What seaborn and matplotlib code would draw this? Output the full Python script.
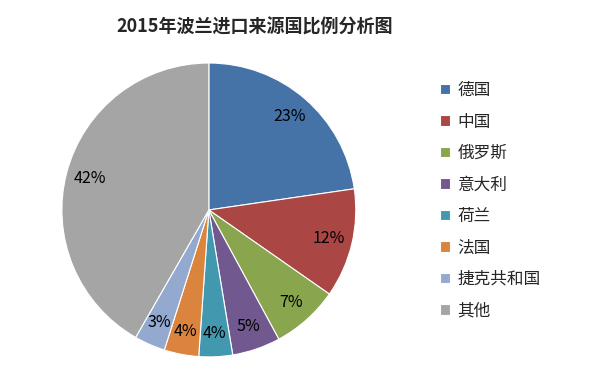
import numpy as np
import matplotlib
matplotlib.use("Agg")
import matplotlib.pyplot as plt
import seaborn as sns

# 2015 Poland import sources, share in %
countries = ["德国", "中国", "俄罗斯", "意大利", "荷兰", "法国", "捷克共和国", "其他"]
shares = [22.7, 12.0, 7.4, 5.3, 3.7, 3.8, 3.4, 41.7]
colors = ["#4572A7", "#AA4643", "#89A54E", "#71588F", "#4198AF", "#DB843D", "#93A9CF", "#A5A5A5"]

sns.set_theme(style="white")
plt.rcParams['font.family'] = ['Noto Sans CJK SC', 'DejaVu Sans']

fig = plt.figure(figsize=(6.01, 3.69), dpi=100)
ax = fig.add_axes([0.103, 0.0325, 0.489, 0.797])

wedges, texts, autotexts = ax.pie(
    shares, colors=sns.color_palette(colors), startangle=90, counterclock=False,
    autopct=lambda p: "%d%%" % round(p), pctdistance=0.84,
    wedgeprops=dict(edgecolor="white", linewidth=0.8),
    textprops=dict(fontsize=11.5, color="black"))
ax.set_aspect("equal")
ax.set_xlim(-1, 1)
ax.set_ylim(-1, 1)

fig.text(255 / 601, 1 - 27 / 369, "2015年波兰进口来源国比例分析图",
         ha="center", va="center", fontsize=13, fontweight="bold")

fig.legend(wedges, countries, loc="upper left", bbox_to_anchor=(425 / 601, 1 - 67 / 369),
           frameon=False, fontsize=12, labelspacing=0.87,
           handlelength=0.6, handleheight=0.6, handletextpad=0.45)

fig.savefig("out.png", dpi=100, facecolor="white")
